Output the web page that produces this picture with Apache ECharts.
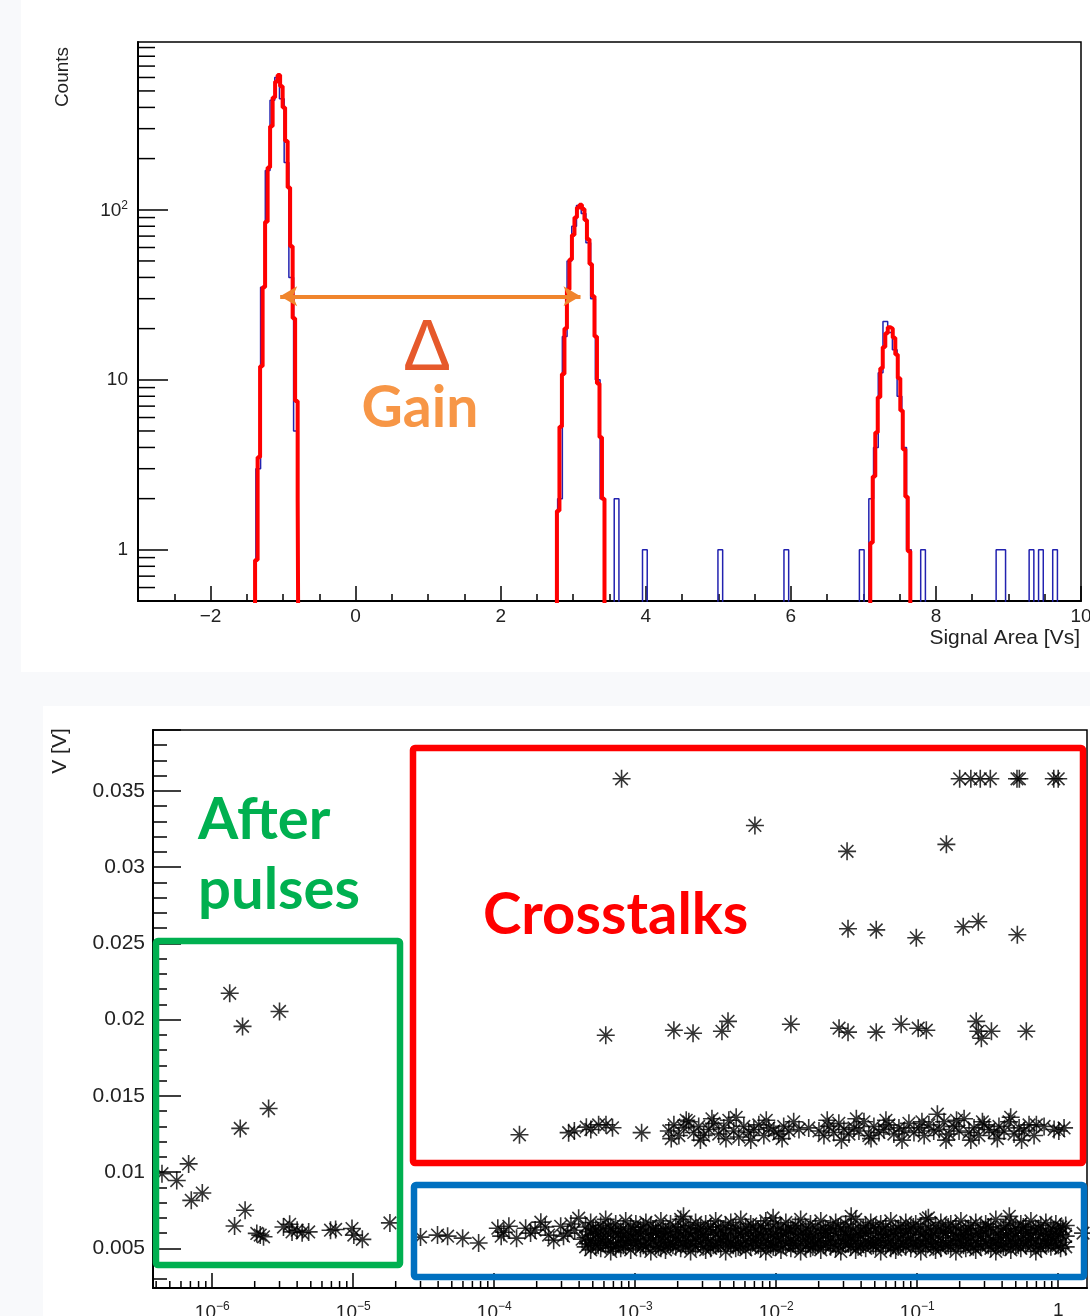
<!DOCTYPE html>
<html>
<head>
<meta charset="utf-8">
<style>
  html, body { margin: 0; padding: 0; background: #f8f9fb; }
  #chart { width: 1090px; height: 1316px; }
</style>
<script src="https://cdn.jsdelivr.net/npm/echarts@6/dist/echarts.min.js"></script>
</head>
<body>
<div id="chart"></div>
<script>
const AXIS_FONT = '"Liberation Sans", Arial, sans-serif';
const NOTE_FONT = 'Lato, "Open Sans", sans-serif';

// ---------- top: signal area histogram ----------
const HIST_MIN = -3;
const HIST_BIN = 0.065;     // 200 bins over [-3, 10]
const HIST_NBINS = 200;
const LOG_FLOOR = 0.1;      // empty bins are drawn below the axis and clipped

// blue histogram, non-empty bins only
const blueBinIndex = [25, 26, 27, 28, 29, 30, 31, 32, 33,
  89, 90, 91, 92, 93, 94, 95, 96, 97, 98,
  101, 107, 123, 137, 153,
  155, 156, 157, 158, 159, 160, 161, 162, 163,
  166, 182, 183, 189, 191, 194];
const blueBinCount = [3, 35, 170, 440, 600, 450, 190, 40, 5,
  2, 18, 50, 80, 106, 95, 64, 30, 10, 2,
  2, 1, 1, 1, 1,
  2, 4, 11, 22, 19, 15, 8, 4, 1,
  1, 1, 1, 1, 1, 1];

// red fit, [x where the step starts, value]; value 0 closes the curve
const fitPeak1 = [[-1.386, 0.87], [-1.351, 3.5], [-1.317, 12], [-1.282, 35], [-1.248, 85], [-1.213, 177],
  [-1.179, 310], [-1.144, 457], [-1.110, 568], [-1.075, 620], [-1.041, 532], [-1.006, 400],
  [-0.972, 254], [-0.937, 135], [-0.903, 61], [-0.868, 23], [-0.834, 7.5], [-0.799, 2.0], [-0.786, 0]];
const fitPeak2 = [[2.775, 1.7], [2.810, 5.3], [2.844, 10.8], [2.879, 20], [2.913, 34], [2.948, 51],
  [2.982, 71], [3.017, 90], [3.051, 103], [3.086, 107], [3.120, 101], [3.155, 87], [3.189, 67],
  [3.224, 48], [3.258, 31], [3.293, 18], [3.327, 9.5], [3.362, 4.6], [3.396, 2.0], [3.431, 0]];
const fitPeak3 = [[7.095, 1.1], [7.129, 2.7], [7.164, 4.9], [7.198, 7.9], [7.233, 11.7], [7.267, 15.6],
  [7.302, 18.8], [7.336, 20.4], [7.371, 20.0], [7.405, 17.7], [7.440, 14.1], [7.474, 10.2],
  [7.509, 6.6], [7.543, 3.9], [7.578, 2.05], [7.612, 0.98], [7.647, 0]];

const countMinorTicks = [0.6, 0.7, 0.8, 0.9, 2, 3, 4, 5, 6, 7, 8, 9,
  20, 30, 40, 50, 60, 70, 80, 90, 200, 300, 400, 500, 600, 700, 800, 900];

const gainArrow = { from: -1.04, to: 3.10, level: 31 };

// ---------- bottom: amplitude vs time ----------
const afterPulses = [[4.4e-7, 0.0099], [5.6e-7, 0.00945], [6.8e-7, 0.01054], [7.1e-7, 0.00815], [8.5e-7, 0.00863],
  [1.33e-6, 0.02173], [1.44e-6, 0.00647], [1.58e-6, 0.01287], [1.64e-6, 0.01956], [1.71e-6, 0.0075],
  [2.07e-6, 0.00598], [2.19e-6, 0.00587], [2.31e-6, 0.00576], [2.51e-6, 0.01417], [3.0e-6, 0.02054],
  [3.2e-6, 0.0064], [3.54e-6, 0.00658], [3.68e-6, 0.00608], [4.0e-6, 0.00619], [4.34e-6, 0.00602],
  [4.83e-6, 0.00608], [6.9e-6, 0.00619], [7.5e-6, 0.00624], [9.8e-6, 0.0063], [1.01e-5, 0.00587],
  [1.16e-5, 0.00559], [1.82e-5, 0.00667]];

const bandSparse = [[3.0e-5, 0.00574], [3.96e-5, 0.00587], [4.67e-5, 0.0058], [5.97e-5, 0.00567], [7.75e-5, 0.00535],
  [1.06e-4, 0.00632], [1.12e-4, 0.0058], [1.17e-4, 0.00606], [1.27e-4, 0.00645], [1.44e-4, 0.00567],
  [1.67e-4, 0.00632], [1.81e-4, 0.006], [1.95e-4, 0.0062], [2.14e-4, 0.00672], [2.3e-4, 0.0064],
  [2.43e-4, 0.00587], [2.64e-4, 0.00554], [2.96e-4, 0.00645], [3.1e-4, 0.0058], [3.32e-4, 0.006],
  [3.5e-4, 0.0066], [3.72e-4, 0.00619], [3.97e-4, 0.00698], [4.2e-4, 0.0056],
  [2.2e-3, 0.0071], [9.5e-3, 0.0070], [3.4e-2, 0.0071], [0.12, 0.0070], [0.45, 0.0071], [1.5, 0.0060]];

const bandX = [4.45e-4, 4.83e-4, 5.24e-4, 5.69e-4, 6.17e-4, 6.70e-4, 7.27e-4, 7.89e-4, 8.56e-4, 9.29e-4,
  1.01e-3, 1.09e-3, 1.19e-3, 1.29e-3, 1.40e-3, 1.52e-3, 1.64e-3, 1.78e-3, 1.94e-3, 2.10e-3,
  2.28e-3, 2.47e-3, 2.68e-3, 2.91e-3, 3.16e-3, 3.43e-3, 3.72e-3, 4.04e-3, 4.38e-3, 4.76e-3,
  5.16e-3, 5.60e-3, 6.08e-3, 6.59e-3, 7.16e-3, 7.77e-3, 8.43e-3, 9.14e-3, 9.92e-3, 1.08e-2,
  1.17e-2, 1.27e-2, 1.37e-2, 1.49e-2, 1.62e-2, 1.75e-2, 1.90e-2, 2.07e-2, 2.24e-2, 2.43e-2,
  2.64e-2, 2.87e-2, 3.11e-2, 3.38e-2, 3.66e-2, 3.97e-2, 4.31e-2, 4.68e-2, 5.08e-2, 5.51e-2,
  5.98e-2, 6.49e-2, 7.04e-2, 7.64e-2, 8.29e-2, 9.00e-2, 9.76e-2, 0.106, 0.115, 0.125,
  0.135, 0.147, 0.159, 0.173, 0.188, 0.204, 0.221, 0.240, 0.260, 0.282,
  0.306, 0.333, 0.361, 0.392, 0.425, 0.461, 0.500, 0.543, 0.589, 0.640,
  0.694, 0.753, 0.817, 0.887, 0.962, 1.04, 1.13];
const bandTop = [0.0064, 0.0067, 0.0062, 0.0065, 0.0069, 0.0063, 0.0066, 0.0061, 0.0068, 0.0064,
  0.0066, 0.0062, 0.0067, 0.0065, 0.0063, 0.0068, 0.0061, 0.0066, 0.0064, 0.0069,
  0.0062, 0.0065, 0.0067, 0.0063, 0.0066, 0.0064, 0.0068, 0.0062, 0.0065, 0.0067,
  0.0063, 0.0069, 0.0064, 0.0066, 0.0062, 0.0065, 0.0068, 0.0063, 0.0066, 0.0064,
  0.0067, 0.0062, 0.0065, 0.0069, 0.0063, 0.0066, 0.0064, 0.0068, 0.0062, 0.0065,
  0.0067, 0.0063, 0.0066, 0.0064, 0.0069, 0.0062, 0.0065, 0.0067, 0.0063, 0.0066,
  0.0064, 0.0068, 0.0062, 0.0065, 0.0067, 0.0063, 0.0066, 0.0064, 0.0069, 0.0062,
  0.0065, 0.0067, 0.0063, 0.0066, 0.0064, 0.0068, 0.0062, 0.0065, 0.0067, 0.0063,
  0.0066, 0.0064, 0.0069, 0.0062, 0.0065, 0.0067, 0.0063, 0.0066, 0.0064, 0.0068,
  0.0062, 0.0065, 0.0067, 0.0063, 0.0066, 0.0064, 0.0065];
const bandMid = [0.0057, 0.0055, 0.0059, 0.0056, 0.0058, 0.0054, 0.0060, 0.0057, 0.0055, 0.0058,
  0.0056, 0.0059, 0.0055, 0.0057, 0.0060, 0.0056, 0.0058, 0.0054, 0.0057, 0.0059,
  0.0055, 0.0058, 0.0056, 0.0060, 0.0057, 0.0055, 0.0059, 0.0056, 0.0058, 0.0054,
  0.0057, 0.0060, 0.0055, 0.0058, 0.0056, 0.0059, 0.0057, 0.0054, 0.0058, 0.0056,
  0.0060, 0.0055, 0.0057, 0.0059, 0.0056, 0.0058, 0.0054, 0.0057, 0.0060, 0.0055,
  0.0058, 0.0056, 0.0059, 0.0057, 0.0055, 0.0058, 0.0060, 0.0056, 0.0054, 0.0057,
  0.0059, 0.0055, 0.0058, 0.0056, 0.0060, 0.0057, 0.0055, 0.0059, 0.0056, 0.0058,
  0.0054, 0.0057, 0.0060, 0.0055, 0.0058, 0.0056, 0.0059, 0.0057, 0.0055, 0.0058,
  0.0060, 0.0056, 0.0054, 0.0057, 0.0059, 0.0055, 0.0058, 0.0056, 0.0060, 0.0057,
  0.0055, 0.0059, 0.0056, 0.0058, 0.0057, 0.0059, 0.0058];
const bandLow = [0.0051, 0.0049, 0.0052, 0.0050, 0.0053, 0.0048, 0.0051, 0.0050, 0.0052, 0.0049,
  0.0053, 0.0050, 0.0051, 0.0048, 0.0052, 0.0050, 0.0049, 0.0053, 0.0051, 0.0050,
  0.0052, 0.0048, 0.0051, 0.0053, 0.0049, 0.0050, 0.0052, 0.0051, 0.0048, 0.0053,
  0.0050, 0.0052, 0.0049, 0.0051, 0.0053, 0.0050, 0.0048, 0.0052, 0.0051, 0.0049,
  0.0053, 0.0050, 0.0052, 0.0048, 0.0051, 0.0050, 0.0053, 0.0049, 0.0052, 0.0051,
  0.0050, 0.0048, 0.0053, 0.0051, 0.0049, 0.0052, 0.0050, 0.0053, 0.0051, 0.0048,
  0.0052, 0.0050, 0.0049, 0.0053, 0.0051, 0.0050, 0.0052, 0.0048, 0.0051, 0.0053,
  0.0049, 0.0050, 0.0052, 0.0051, 0.0048, 0.0053, 0.0050, 0.0052, 0.0049, 0.0051,
  0.0053, 0.0050, 0.0048, 0.0052, 0.0051, 0.0049, 0.0053, 0.0050, 0.0052, 0.0051,
  0.0048, 0.0050, 0.0053, 0.0051, 0.0052, 0.0050, 0.0051];
// second, interleaved set of band columns
const bandX2 = [4.64e-4, 5.03e-4, 5.46e-4, 5.93e-4, 6.43e-4, 6.98e-4, 7.57e-4, 8.22e-4, 8.92e-4, 9.68e-4,
  1.05e-3, 1.14e-3, 1.24e-3, 1.34e-3, 1.46e-3, 1.58e-3, 1.71e-3, 1.85e-3, 2.02e-3, 2.19e-3,
  2.38e-3, 2.57e-3, 2.79e-3, 3.03e-3, 3.29e-3, 3.57e-3, 3.88e-3, 4.21e-3, 4.56e-3, 4.96e-3,
  5.38e-3, 5.83e-3, 6.33e-3, 6.86e-3, 7.46e-3, 8.09e-3, 8.78e-3, 9.52e-3, 1.03e-2, 1.12e-2,
  1.22e-2, 1.32e-2, 1.43e-2, 1.55e-2, 1.69e-2, 1.82e-2, 1.98e-2, 2.16e-2, 2.33e-2, 2.53e-2,
  2.75e-2, 2.99e-2, 3.24e-2, 3.52e-2, 3.81e-2, 4.14e-2, 4.49e-2, 4.88e-2, 5.29e-2, 5.74e-2,
  6.23e-2, 6.76e-2, 7.33e-2, 7.96e-2, 8.64e-2, 9.38e-2, 0.102, 0.110, 0.120, 0.130,
  0.141, 0.153, 0.166, 0.180, 0.196, 0.213, 0.230, 0.250, 0.271, 0.294,
  0.319, 0.347, 0.376, 0.408, 0.443, 0.480, 0.521, 0.566, 0.614, 0.667,
  0.723, 0.784, 0.851, 0.924, 1.00, 1.08];
const bandUpper2 = [0.0061, 0.0063, 0.0060, 0.0062, 0.0064, 0.0061, 0.0059, 0.0063, 0.0060, 0.0062,
  0.0061, 0.0064, 0.0060, 0.0062, 0.0059, 0.0063, 0.0061, 0.0060, 0.0062, 0.0064,
  0.0060, 0.0061, 0.0063, 0.0059, 0.0062, 0.0061, 0.0064, 0.0060, 0.0062, 0.0063,
  0.0059, 0.0061, 0.0062, 0.0064, 0.0060, 0.0063, 0.0061, 0.0059, 0.0062, 0.0060,
  0.0063, 0.0061, 0.0064, 0.0060, 0.0062, 0.0059, 0.0061, 0.0063, 0.0060, 0.0062,
  0.0064, 0.0061, 0.0059, 0.0062, 0.0060, 0.0063, 0.0061, 0.0064, 0.0060, 0.0062,
  0.0059, 0.0061, 0.0063, 0.0060, 0.0062, 0.0064, 0.0061, 0.0059, 0.0063, 0.0060,
  0.0062, 0.0061, 0.0064, 0.0060, 0.0062, 0.0059, 0.0063, 0.0061, 0.0060, 0.0062,
  0.0064, 0.0061, 0.0059, 0.0063, 0.0060, 0.0062, 0.0061, 0.0064, 0.0060, 0.0062,
  0.0063, 0.0061, 0.0060, 0.0062, 0.0061, 0.0063];
const bandLower2 = [0.0053, 0.0054, 0.0052, 0.0055, 0.0053, 0.0051, 0.0054, 0.0052, 0.0055, 0.0053,
  0.0054, 0.0052, 0.0053, 0.0055, 0.0051, 0.0054, 0.0053, 0.0052, 0.0055, 0.0054,
  0.0052, 0.0053, 0.0055, 0.0051, 0.0054, 0.0052, 0.0053, 0.0055, 0.0054, 0.0052,
  0.0051, 0.0053, 0.0054, 0.0055, 0.0052, 0.0054, 0.0053, 0.0051, 0.0055, 0.0052,
  0.0054, 0.0053, 0.0052, 0.0055, 0.0053, 0.0051, 0.0054, 0.0052, 0.0055, 0.0053,
  0.0052, 0.0054, 0.0053, 0.0055, 0.0051, 0.0053, 0.0054, 0.0052, 0.0055, 0.0053,
  0.0054, 0.0052, 0.0051, 0.0053, 0.0055, 0.0054, 0.0052, 0.0053, 0.0055, 0.0051,
  0.0053, 0.0054, 0.0052, 0.0055, 0.0053, 0.0052, 0.0054, 0.0051, 0.0053, 0.0055,
  0.0052, 0.0054, 0.0053, 0.0051, 0.0055, 0.0053, 0.0052, 0.0054, 0.0055, 0.0053,
  0.0052, 0.0054, 0.0053, 0.0055, 0.0052, 0.0054];

// crosstalk: lowest (one extra p.e.) row
const crossSparse = [[1.51e-4, 0.01245], [3.37e-4, 0.01259], [3.7e-4, 0.0127], [4.5e-4, 0.01295], [4.84e-4, 0.0128],
  [5.5e-4, 0.0131], [6.2e-4, 0.01311], [6.9e-4, 0.01291], [1.11e-3, 0.01259]];
const crossX = [1.73e-3, 1.88e-3, 2.04e-3, 2.21e-3, 2.40e-3, 2.60e-3, 2.82e-3, 3.06e-3, 3.32e-3, 3.61e-3,
  3.91e-3, 4.25e-3, 4.61e-3, 5.00e-3, 5.43e-3, 5.89e-3, 6.39e-3, 6.94e-3, 7.53e-3, 8.17e-3,
  8.86e-3, 9.62e-3,
  1.04e-2, 1.13e-2, 1.23e-2, 1.33e-2, 1.45e-2, 1.70e-2, 2.01e-2, 2.18e-2, 2.36e-2, 2.56e-2,
  2.78e-2, 3.02e-2, 3.28e-2, 3.56e-2, 3.86e-2, 4.19e-2, 4.54e-2, 4.93e-2, 5.35e-2, 5.80e-2,
  6.30e-2, 6.83e-2, 7.42e-2, 8.05e-2, 8.73e-2, 9.48e-2,
  0.103, 0.112, 0.121, 0.131, 0.143, 0.155, 0.168, 0.182, 0.198, 0.215,
  0.233, 0.253, 0.274, 0.298, 0.323, 0.351, 0.380, 0.413, 0.448, 0.486,
  0.528, 0.573, 0.621, 0.674, 0.794, 0.935, 1.01, 1.10];
const crossY = [0.0127, 0.0131, 0.0124, 0.0129, 0.0133, 0.0126, 0.0130, 0.0124, 0.0128, 0.0132,
  0.0125, 0.0129, 0.0134, 0.0127, 0.0123, 0.0130, 0.0126, 0.0128, 0.0131, 0.0124,
  0.0129, 0.0127,
  0.0125, 0.0130, 0.0127, 0.0133, 0.0128, 0.0129, 0.0127, 0.0124, 0.0130, 0.0126,
  0.0132, 0.0128, 0.0125, 0.0129, 0.0127, 0.0133, 0.0124, 0.0130, 0.0126, 0.0128,
  0.0131, 0.0125, 0.0129, 0.0127, 0.0132, 0.0126,
  0.0129, 0.0124, 0.0131, 0.0127, 0.0128, 0.0133, 0.0125, 0.0130, 0.0127, 0.0135,
  0.0126, 0.0129, 0.0124, 0.0131, 0.0128, 0.0126, 0.0130, 0.0127, 0.0133, 0.0125,
  0.0129, 0.0127, 0.0131, 0.0124, 0.0130, 0.0128, 0.0127, 0.0129];
const crossExtra = [[1.8e-3, 0.0122], [2.3e-3, 0.0134], [2.9e-3, 0.0121], [3.5e-3, 0.0135], [4.4e-3, 0.0122],
  [5.2e-3, 0.0136], [6.6e-3, 0.0121], [8.5e-3, 0.0134], [1.1e-2, 0.0122], [2.3e-2, 0.0134],
  [2.9e-2, 0.0121], [3.7e-2, 0.0135], [4.7e-2, 0.0122], [6.0e-2, 0.0134], [7.8e-2, 0.0121],
  [0.108, 0.0133], [0.139, 0.0138], [0.16, 0.0121], [0.19, 0.0134], [0.24, 0.0121],
  [0.29, 0.0133], [0.37, 0.0122], [0.46, 0.0136], [0.55, 0.0121], [0.70, 0.0131]];

// crosstalk: higher rows
const crossHigh = [
  [6.18e-4, 0.01898], [1.88e-3, 0.01931], [2.57e-3, 0.01911], [4.12e-3, 0.01924], [4.55e-3, 0.01989],
  [1.27e-2, 0.0197], [2.79e-2, 0.01944], [3.23e-2, 0.01918], [5.12e-2, 0.01918], [7.69e-2, 0.0197],
  [0.1016, 0.01944], [0.116, 0.01931], [0.262, 0.01989], [0.271, 0.01924], [0.285, 0.01878],
  [0.336, 0.01924], [0.594, 0.01924],
  [3.23e-2, 0.02596], [5.12e-2, 0.02589], [9.85e-2, 0.02537], [0.212, 0.02609], [0.271, 0.02642], [0.513, 0.02557],
  [7.06e-3, 0.03274], [3.18e-2, 0.03104], [0.161, 0.0315],
  [8.0e-4, 0.0358], [0.20, 0.0358], [0.24, 0.0358], [0.28, 0.0358], [0.33, 0.0358],
  [0.51, 0.0358], [0.53, 0.0358], [0.93, 0.0358], [1.0, 0.0358]];

const timeMinorTicks = [4e-7, 5e-7, 6e-7, 7e-7, 8e-7, 9e-7,
  2e-6, 3e-6, 4e-6, 5e-6, 6e-6, 7e-6, 8e-6, 9e-6,
  2e-5, 3e-5, 4e-5, 5e-5, 6e-5, 7e-5, 8e-5, 9e-5,
  2e-4, 3e-4, 4e-4, 5e-4, 6e-4, 7e-4, 8e-4, 9e-4,
  2e-3, 3e-3, 4e-3, 5e-3, 6e-3, 7e-3, 8e-3, 9e-3,
  0.02, 0.03, 0.04, 0.05, 0.06, 0.07, 0.08, 0.09,
  0.2, 0.3, 0.4, 0.5, 0.6, 0.7, 0.8, 0.9];

// ---------- build series data ----------
const blueCounts = new Array(HIST_NBINS).fill(0);
blueBinIndex.forEach((k, i) => { blueCounts[k] = blueBinCount[i]; });
const blueData = blueCounts.map((c, k) => [HIST_MIN + k * HIST_BIN, c > 0 ? c : LOG_FLOOR]);
blueData.push([HIST_MIN + HIST_NBINS * HIST_BIN, LOG_FLOOR]);

const stepData = pts => [[pts[0][0] - 0.05, LOG_FLOOR]].concat(pts.map(([x, c]) => [x, c > 0 ? c : LOG_FLOOR]));

const zipRow = (xs, ys) => xs.map((x, i) => [x, ys[i]]).filter(p => p[1] != null);
const scatterData = [].concat(
  afterPulses, bandSparse,
  zipRow(bandX, bandTop), zipRow(bandX, bandMid), zipRow(bandX, bandLow),
  zipRow(bandX2, bandUpper2), zipRow(bandX2, bandLower2),
  crossSparse, zipRow(crossX, crossY), crossExtra, crossHigh
);

function supLabel(e) {
  return `{b|10}{s|${e < 0 ? '\u2212' + (-e) : e}}`;
}
const richSup = {
  b: { fontSize: 19, fontFamily: AXIS_FONT, color: '#222', verticalAlign: 'bottom' },
  s: { fontSize: 12, fontFamily: AXIS_FONT, color: '#222', verticalAlign: 'bottom', padding: [0, 0, 9, 0] },
};

// ticks the log axes can't draw themselves (2..9 per decade)
function minorTickSeries(xi, yi, data, dir, len) {
  return {
    type: 'custom', xAxisIndex: xi, yAxisIndex: yi, silent: true, z: 5,
    data,
    renderItem(params, api) {
      const p = api.coord([api.value(0), api.value(1)]);
      const cs = params.coordSys;
      const shape = dir === 'y'
        ? { x1: cs.x, y1: p[1], x2: cs.x + len, y2: p[1] }
        : { x1: p[0], y1: cs.y + cs.height, x2: p[0], y2: cs.y + cs.height - len };
      return { type: 'line', shape, style: { stroke: '#000', lineWidth: 1.5 } };
    },
  };
}

const redLine = { color: '#ff0000', width: 4 };

const option = {
  animation: false,
  backgroundColor: '#f8f9fb',
  grid: [
    { left: 138, top: 42, width: 943, height: 559, outerBoundsMode: 'none', containLabel: false,
      show: true, borderColor: '#000', borderWidth: 1.5, backgroundColor: '#fff' },
    { left: 153, top: 730, width: 934, height: 558, outerBoundsMode: 'none', containLabel: false,
      show: true, borderColor: '#000', borderWidth: 1.5, backgroundColor: '#fff' },
  ],
  xAxis: [
    {
      type: 'value', gridIndex: 0, min: HIST_MIN, max: 10, splitNumber: 7,
      axisLine: { onZero: false, lineStyle: { color: '#000', width: 2 } },
      axisTick: { inside: true, length: 15, lineStyle: { color: '#000', width: 1.5 } },
      minorTick: { show: true, splitNumber: 4, length: 7, lineStyle: { color: '#000', width: 1.5 } },
      splitLine: { show: false },
      axisLabel: {
        margin: 6, color: '#222', fontFamily: AXIS_FONT, fontSize: 19, showMinLabel: false,
        formatter: v => String(v).replace('-', '\u2212'),
      },
    },
    {
      type: 'log', gridIndex: 1, min: 3.8e-7, max: 1.6, logBase: 10,
      axisLine: { onZero: false, lineStyle: { color: '#000', width: 2 } },
      axisTick: { inside: true, length: 15, lineStyle: { color: '#000', width: 1.5 } },
      splitLine: { show: false },
      axisLabel: {
        margin: 13, color: '#222', fontFamily: AXIS_FONT, fontSize: 19,
        showMinLabel: false, showMaxLabel: false,
        formatter: v => { const e = Math.round(Math.log10(v)); return e === 0 ? '1' : supLabel(e); },
        rich: richSup,
      },
    },
  ],
  yAxis: [
    {
      type: 'log', gridIndex: 0, min: 0.5, max: 970, logBase: 10,
      axisLine: { onZero: false, lineStyle: { color: '#000', width: 2 } },
      axisTick: { inside: true, length: 30, lineStyle: { color: '#000', width: 1.5 } },
      splitLine: { show: false },
      axisLabel: {
        margin: 10, color: '#222', fontFamily: AXIS_FONT, fontSize: 19,
        showMinLabel: false, showMaxLabel: false,
        formatter: v => { const e = Math.round(Math.log10(v)); return e === 0 ? '1' : e === 1 ? '10' : supLabel(e); },
        rich: richSup,
      },
    },
    {
      type: 'value', gridIndex: 1, min: 0.0024, max: 0.039, splitNumber: 7,
      axisLine: { onZero: false, lineStyle: { color: '#000', width: 2 } },
      axisTick: { inside: true, length: 28, lineStyle: { color: '#000', width: 1.5 } },
      minorTick: { show: true, splitNumber: 5, length: 14, lineStyle: { color: '#000', width: 1.5 } },
      splitLine: { show: false },
      axisLabel: {
        margin: 8, color: '#222', fontFamily: AXIS_FONT, fontSize: 21,
        showMinLabel: false, showMaxLabel: false,
      },
    },
  ],
  series: [
    {
      type: 'line', name: 'data', xAxisIndex: 0, yAxisIndex: 0, data: blueData,
      step: 'end', symbol: 'none', clip: true, silent: true,
      lineStyle: { color: '#2222b0', width: 1.5 },
    },
    {
      type: 'line', name: 'fit 0', xAxisIndex: 0, yAxisIndex: 0, data: stepData(fitPeak1),
      step: 'end', symbol: 'none', clip: true, silent: true, lineStyle: redLine,
    },
    {
      type: 'line', name: 'fit 1', xAxisIndex: 0, yAxisIndex: 0, data: stepData(fitPeak2),
      step: 'end', symbol: 'none', clip: true, silent: true, lineStyle: redLine,
    },
    {
      type: 'line', name: 'fit 2', xAxisIndex: 0, yAxisIndex: 0, data: stepData(fitPeak3),
      step: 'end', symbol: 'none', clip: true, silent: true, lineStyle: redLine,
      markLine: {
        silent: true, symbol: ['arrow', 'arrow'], symbolSize: [15, 17],
        label: { show: false },
        lineStyle: { color: '#f0852d', width: 4, type: 'solid' },
        data: [[{ coord: [gainArrow.from, gainArrow.level] }, { coord: [gainArrow.to, gainArrow.level] }]],
      },
    },
    minorTickSeries(0, 0, countMinorTicks.map(v => [0, v]), 'y', 17),
    {
      type: 'scatter', xAxisIndex: 1, yAxisIndex: 1, data: scatterData,
      symbol: 'path://M10,0L10,20M0,10L20,10M3,3L17,17M3,17L17,3',
      symbolSize: 18, progressive: 0, silent: true,
      itemStyle: { color: 'rgba(0,0,0,0)', borderColor: '#000', borderWidth: 1.6 },
    },
    minorTickSeries(1, 1, timeMinorTicks.map(v => [v, 0.01]), 'x', 7),
  ],
  graphic: [
    { type: 'rect', z: -10, shape: { x: 21, y: 0, width: 1069, height: 672 }, style: { fill: '#fff' } },
    { type: 'rect', z: -10, shape: { x: 43, y: 706, width: 1047, height: 610 }, style: { fill: '#fff' } },
    {
      type: 'text', x: 63, y: 77, rotation: Math.PI / 2, z: 50,
      style: { text: 'Counts', font: `19px ${AXIS_FONT}`, fill: '#222', align: 'center', verticalAlign: 'middle' },
    },
    {
      type: 'text', x: 1080, y: 638, z: 50,
      style: { text: 'Signal Area [Vs]', font: `21px ${AXIS_FONT}`, fill: '#222', align: 'right', verticalAlign: 'middle' },
    },
    {
      type: 'text', x: 427, y: 350, z: 50,
      style: { text: '\u0394', font: `72px ${AXIS_FONT}`, fill: '#e6592b', align: 'center', verticalAlign: 'middle' },
    },
    {
      type: 'text', x: 420, y: 409, z: 50,
      style: { text: 'Gain', font: `bold 57px ${NOTE_FONT}`, fill: '#f79646', align: 'center', verticalAlign: 'middle' },
    },
    {
      type: 'text', x: 60, y: 751, rotation: Math.PI / 2, z: 50,
      style: { text: 'V [V]', font: `21px ${AXIS_FONT}`, fill: '#222', align: 'center', verticalAlign: 'middle' },
    },
    {
      type: 'text', x: 198, y: 820, z: 50,
      style: { text: 'After', font: `bold 58px ${NOTE_FONT}`, fill: '#00b050', align: 'left', verticalAlign: 'middle' },
    },
    {
      type: 'text', x: 198, y: 890, z: 50,
      style: { text: 'pulses', font: `bold 58px ${NOTE_FONT}`, fill: '#00b050', align: 'left', verticalAlign: 'middle' },
    },
    {
      type: 'text', x: 483, y: 915, z: 50,
      style: { text: 'Crosstalks', font: `bold 58px ${NOTE_FONT}`, fill: '#ff0000', align: 'left', verticalAlign: 'middle' },
    },
    {
      type: 'rect', z: 60, shape: { x: 156, y: 941, width: 244, height: 324, r: 2 },
      style: { fill: 'none', stroke: '#00b050', lineWidth: 6.5 },
    },
    {
      type: 'rect', z: 60, shape: { x: 413, y: 748, width: 670, height: 415, r: 2 },
      style: { fill: 'none', stroke: '#ff0000', lineWidth: 6.5 },
    },
    {
      type: 'rect', z: 60, shape: { x: 414, y: 1185, width: 670, height: 92, r: 2 },
      style: { fill: 'none', stroke: '#0070c0', lineWidth: 6.5 },
    },
  ],
};

const chart = echarts.init(document.getElementById('chart'));
chart.setOption(option);
</script>
</body>
</html>
